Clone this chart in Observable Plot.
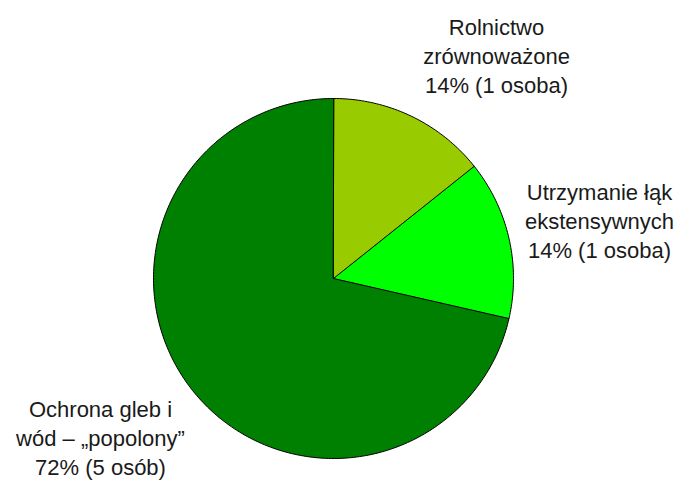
<!DOCTYPE html>
<html>
<head>
<meta charset="utf-8">
<script src="https://cdn.jsdelivr.net/npm/d3@7"></script>
<script src="https://cdn.jsdelivr.net/npm/@observablehq/plot@0.6"></script>
<style>
  html, body { margin: 0; padding: 0; background: #ffffff; }
  #chart { width: 683px; height: 481px; }
</style>
</head>
<body>
<div id="chart"></div>
<script>
// ---- data ----
const categories = ["Rolnictwo\nzrównoważone", "Utrzymanie łąk\nekstensywnych", "Ochrona gleb i\nwód – „popolony”"];
const counts = [1, 1, 5];
const percents = [14, 14, 72];
const personWords = ["osoba", "osoba", "osób"];

// ---- styling / layout ----
const colors = ["#99CC00", "#00FF00", "#008000"];
const W = 683, H = 481;
const CX = 333, CY = 278, R = 180;          // pie centre and radius in px
const labelPx = [[496, 54], [599, 219], [100, 436]]; // label block centres in px

// data-space helpers: 1 unit = pie radius
const toX = px => (px - CX) / R;
const toY = py => (CY - py) / R;

// build slice outlines from the counts (angles clockwise from 12 o'clock)
const total = d3.sum(counts);
const slices = [];
let acc = 0;
categories.forEach((name, i) => {
  const a0 = acc / total * 2 * Math.PI;
  acc += counts[i];
  const a1 = acc / total * 2 * Math.PI;
  slices.push({name, x: 0, y: 0});
  const steps = Math.max(2, Math.ceil((a1 - a0) / (Math.PI / 180)));
  for (let k = 0; k <= steps; k++) {
    const a = a0 + (a1 - a0) * k / steps;
    slices.push({name, x: Math.sin(a), y: Math.cos(a)});
  }
});

const labelData = categories.map((name, i) => ({
  name,
  text: `${name}\n${percents[i]}% (${counts[i]} ${personWords[i]})`,
  x: toX(labelPx[i][0]),
  y: toY(labelPx[i][1])
}));

const chart = Plot.plot({
  width: W,
  height: H,
  margin: 0,
  style: {background: "#ffffff", fontFamily: "'Liberation Sans', Arial, sans-serif"},
  x: {domain: [toX(0), toX(W)], axis: null},
  y: {domain: [toY(H), toY(0)], axis: null},
  color: {domain: categories, range: colors},
  marks: [
    Plot.line(slices, {
      x: "x", y: "y", z: "name", fill: "name",
      stroke: "#000000", strokeWidth: 1, curve: "linear-closed"
    }),
    Plot.text(labelData, {
      x: "x", y: "y", text: "text",
      fontSize: 22, lineHeight: 1.32, fill: "#1a1a1a",
      textAnchor: "middle"
    })
  ]
});
document.getElementById("chart").appendChild(chart);
</script>
</body>
</html>
